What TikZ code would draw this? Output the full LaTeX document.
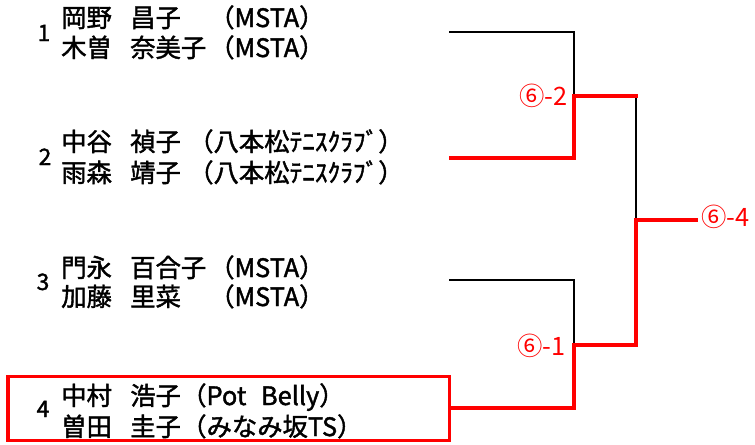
\documentclass[tikz,border=0pt]{standalone}
\usepackage{fontspec}
\setmainfont{Noto Sans CJK JP}
\newfontfamily\jpsemi{Noto Sans CJK JP}[FakeBold=1.6]
\begin{document}
\begin{tikzpicture}[x=0.75pt,y=-0.75pt,
  nm/.style={anchor=base west,inner sep=0pt,font=\jpsemi\fontsize{19pt}{21pt}\selectfont},
  seed/.style={anchor=base,inner sep=0pt,font=\jpsemi\fontsize{17pt}{19pt}\selectfont},
  score/.style={text=red,inner sep=0pt,font=\fontsize{19pt}{21pt}\selectfont},
  thinl/.style={draw=black,line width=1pt},
  redl/.style={draw=red,line width=2.6pt},
  winbox/.style={draw=red,line width=2.6pt,inner sep=0pt,minimum width=331.1pt,minimum height=48pt}]
\useasboundingbox (0,0) rectangle (755,444);
% team 1
\node[seed] (s1) at (44,41) {1};
\node[nm] (a1) at (61,27) {岡野};
\node[nm] (g1) at (130,27) {昌子};
\node[nm] (c1) at (209,27) {（MSTA）};
\node[nm] (a1b) at (61,57) {木曽};
\node[nm] (g1b) at (130,57) {奈美子};
\node[nm] (c1b) at (209,57) {（MSTA）};
% team 2
\node[seed] (s2) at (45,165) {2};
\node[nm] (a2) at (61,151) {中谷};
\node[nm] (g2) at (130,151) {禎子};
\node[nm] (c2) at (188,151) {（八本松ﾃﾆｽｸﾗﾌﾞ）};
\node[nm] (a2b) at (61,182) {雨森};
\node[nm] (g2b) at (130,182) {靖子};
\node[nm] (c2b) at (188,182) {（八本松ﾃﾆｽｸﾗﾌﾞ）};
% team 3
\node[seed] (s3) at (43,290) {3};
\node[nm] (a3) at (61,277) {門永};
\node[nm] (g3) at (130,277) {百合子};
\node[nm] (c3) at (209,277) {（MSTA）};
\node[nm] (a3b) at (61,306) {加藤};
\node[nm] (g3b) at (130,306) {里菜};
\node[nm] (c3b) at (209,306) {（MSTA）};
% team 4
\node[winbox] (b4) at (228.75,408.5) {};
\node[seed] (s4) at (43,417) {4};
\node[nm] (a4) at (61,405) {中村};
\node[nm] (g4) at (130,405) {浩子};
\node[nm] (c4) at (181,405) {（Pot\hspace{11pt}Belly）};
\node[nm] (a4b) at (61,436) {曽田};
\node[nm] (g4b) at (130,436) {圭子};
\node[nm] (c4b) at (181,436) {（みなみ坂TS）};
% bracket
\coordinate (e1) at (449,32);
\coordinate (e2) at (449,158);
\coordinate (e3) at (449,280);
\coordinate (e4) at (b4.east |- 0,408);
\coordinate (m12) at (574,96);
\coordinate (m34) at (574,345);
\coordinate (f) at (636,220);
\coordinate (w) at (698,220);
\draw[thinl] (e1) -| (m12);
\draw[thinl] (e3) -| (m34);
\draw[thinl] (m12 -| f) -- (f);
\draw[redl] (e2) -| (m12) -- ([xshift=1.5pt]m12 -| f);
\draw[redl] (e4) -| (m34) -- (m34 -| f) -- (f) -- (w);
\node[score,anchor=base east] (r2) at (568,105) {⑥-2};
\node[score,anchor=base east] (r1) at (566,355) {⑥-1};
\node[score,anchor=base west] (r4) at (701,226.5) {⑥-4};
\end{tikzpicture}
\end{document}
